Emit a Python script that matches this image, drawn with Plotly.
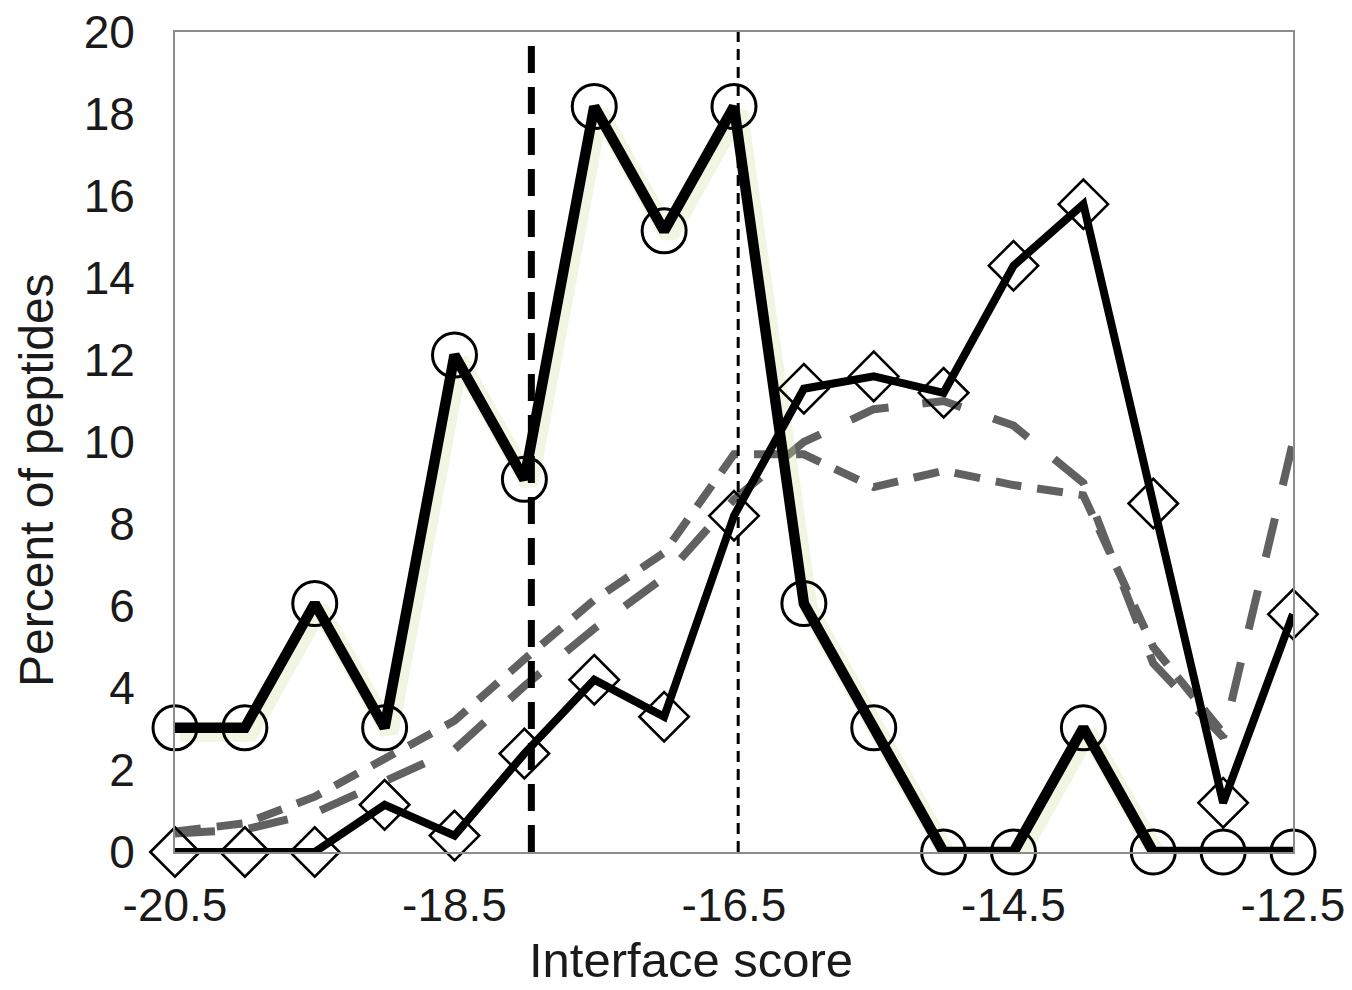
import plotly.graph_objects as go

# ---------------- data ----------------
x_scores = [-20.5, -20.0, -19.5, -19.0, -18.5, -18.0, -17.5, -17.0, -16.5,
            -16.0, -15.5, -15.0, -14.5, -14.0, -13.5, -13.0, -12.5]
circle_pct = [3.03, 3.03, 6.06, 3.03, 12.12, 9.09, 18.18, 15.15, 18.18,
              6.06, 3.03, 0, 0, 3.03, 0, 0, 0]
diamond_pct = [0, 0, 0, 1.15, 0.4, 2.4, 4.2, 3.3, 8.2,
               11.3, 11.6, 11.2, 14.3, 15.8, 8.5, 1.2, 5.8]
gray_long_pct = [0.45, 0.55, 0.95, 1.75, 2.5, 4.05, 5.45, 6.7, 8.6,
                 10.0, 10.8, 11.0, 10.4, 9.0, 4.6, 2.8, 10.0]
gray_short_pct = [0.5, 0.7, 1.35, 2.3, 3.2, 4.7, 6.15, 7.3, 9.7,
                  9.7, 8.9, 9.3, 8.95, 8.7, 5.0, 2.9, None]
vline_thick_x = -17.95
vline_thin_x = -16.47
x_ticks = [-20.5, -18.5, -16.5, -14.5, -12.5]
x_tick_labels = ["-20.5", "-18.5", "-16.5", "-14.5", "-12.5"]
y_ticks = [0, 2, 4, 6, 8, 10, 12, 14, 16, 18, 20]
x_title = "Interface score"
y_title = "Percent of peptides"

FONT = "Liberation Sans, Arial, sans-serif"
GRAY = "#616161"
GLOW = "rgba(205,225,160,0.30)"

fig = go.Figure()

fig.add_trace(go.Scatter(x=x_scores, y=gray_long_pct, mode="lines",
                         line=dict(color=GRAY, width=8, dash="40px,34px"),
                         cliponaxis=False, showlegend=False))
fig.add_trace(go.Scatter(x=x_scores, y=gray_short_pct, mode="lines",
                         line=dict(color=GRAY, width=8, dash="26px,16px"),
                         cliponaxis=False, showlegend=False))

# soft greenish glow behind the black series (offset shadow)
shadow_dx, shadow_dy = 0.035, -0.12
fig.add_trace(go.Scatter(x=[v + shadow_dx for v in x_scores],
                         y=[v + shadow_dy for v in circle_pct], mode="lines",
                         line=dict(color=GLOW, width=18), hoverinfo="skip",
                         cliponaxis=False, showlegend=False))

fig.add_trace(go.Scatter(x=[vline_thick_x, vline_thick_x], y=[0, 20], mode="lines",
                         line=dict(color="black", width=7, dash="27px,14px"),
                         cliponaxis=False, showlegend=False))
fig.add_trace(go.Scatter(x=[vline_thin_x, vline_thin_x], y=[0, 20], mode="lines",
                         line=dict(color="black", width=3, dash="11px,7px"),
                         cliponaxis=False, showlegend=False))

fig.add_trace(go.Scatter(x=x_scores, y=diamond_pct, mode="lines+markers",
                         line=dict(color="black", width=8),
                         marker=dict(symbol="diamond-open", size=38, color="black",
                                     line=dict(width=2.6, color="black")),
                         cliponaxis=False, showlegend=False))
fig.add_trace(go.Scatter(x=x_scores, y=circle_pct, mode="lines+markers",
                         line=dict(color="black", width=10.5),
                         marker=dict(symbol="circle-open", size=44, color="black",
                                     line=dict(width=3, color="black")),
                         cliponaxis=False, showlegend=False))

axis_common = dict(showline=True, mirror=True, linecolor="#8c8c8c", linewidth=2,
                   showgrid=False, zeroline=False, ticks="", automargin=False,
                   ticklabeloverflow="allow",
                   tickfont=dict(family=FONT, size=46, color="#1a1a1a"))

fig.update_xaxes(range=[-20.5, -12.5], tickmode="array", tickvals=x_ticks,
                 ticktext=x_tick_labels, ticklabelstandoff=12, **axis_common)
fig.update_yaxes(range=[0, 20], tickmode="array", tickvals=y_ticks,
                 ticklabelstandoff=29, **axis_common)

fig.add_annotation(text=x_title, xref="paper", yref="paper",
                   x=(691 - 175) / 1118, y=-(960 - 852) / 820,
                   xanchor="center", yanchor="middle", showarrow=False,
                   font=dict(family=FONT, size=49, color="#1a1a1a"))
fig.add_annotation(text=y_title, xref="paper", yref="paper",
                   x=(36 - 175) / 1118, y=(852 - 480) / 820, textangle=-90,
                   xanchor="center", yanchor="middle", showarrow=False,
                   font=dict(family=FONT, size=48, color="#1a1a1a"))

# the page body has an 8px default margin, so the figure is sized and
# padded to land the plot area (x 175-1293, y 32-852) at the reference position
fig.update_layout(width=1344, height=982,
                  margin=dict(l=167, r=59, t=24, b=138),
                  paper_bgcolor="white", plot_bgcolor="white")

fig.write_html("out.html")
